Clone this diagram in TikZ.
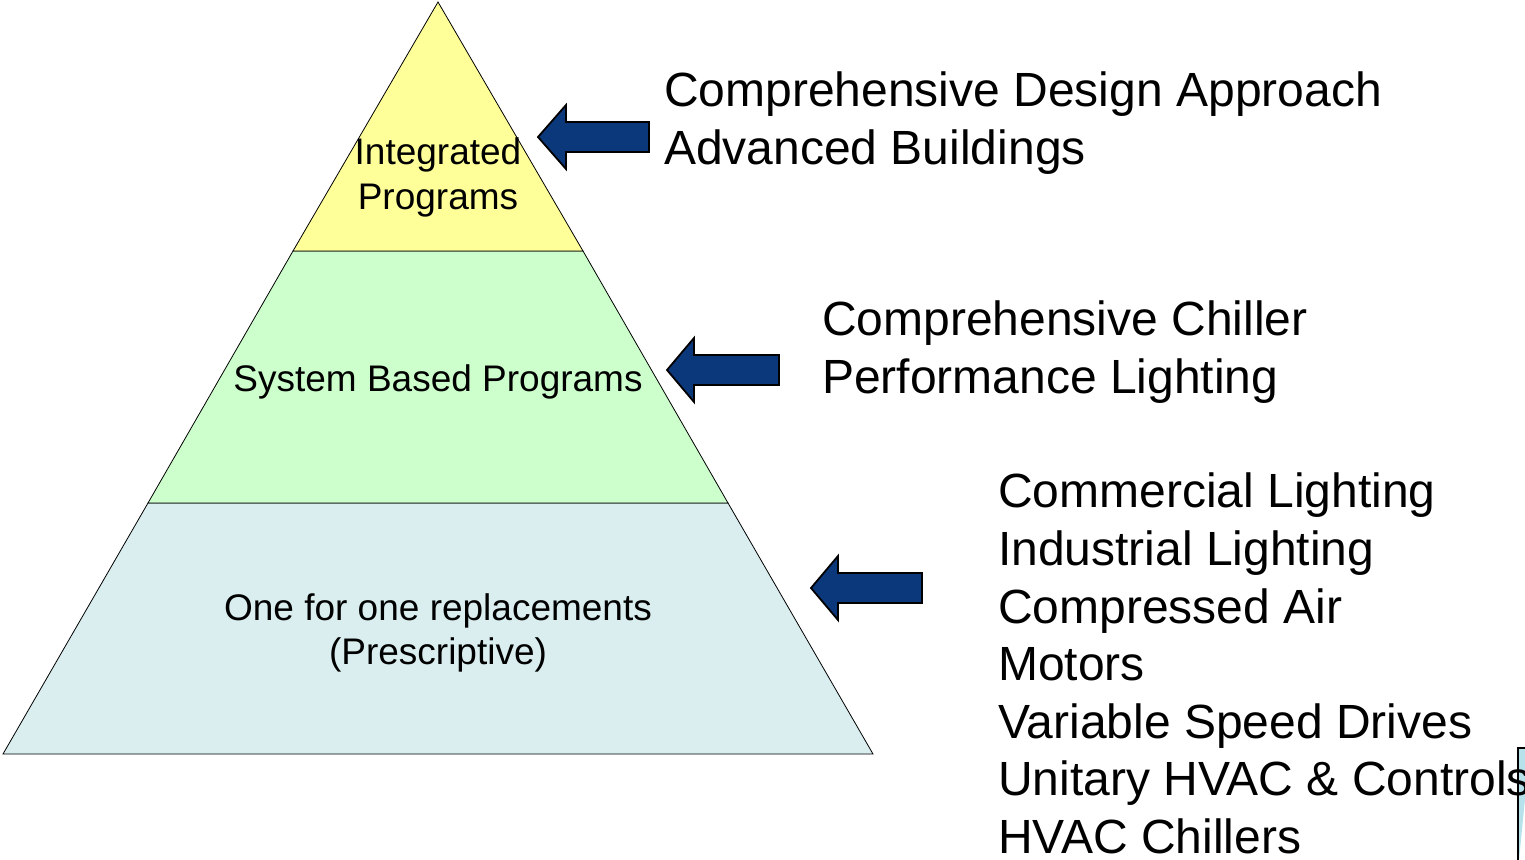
\documentclass[tikz,border=0pt]{standalone}
\usepackage{fontspec}
\setmainfont{Liberation Sans}
\definecolor{topyel}{RGB}{255,255,153}
\definecolor{midgrn}{RGB}{204,255,204}
\definecolor{botblu}{RGB}{218,238,240}
\definecolor{arrblu}{RGB}{11,56,122}
\definecolor{edgeblu}{RGB}{183,225,235}
\begin{document}
\begin{tikzpicture}[x=1pt,y=-1pt,
  tier/.style={draw=black,line width=0.8pt},
  blockarrow/.style={draw=black,line width=1.8pt,fill=arrblu,line join=miter},
  biglabel/.style={anchor=base west,inner sep=0pt,font=\fontsize{48}{58}\selectfont},
  tierlabel/.style={anchor=base,inner sep=0pt,font=\fontsize{37}{44}\selectfont}]
\useasboundingbox (0,0) rectangle (1525,859);
\clip (0,0) rectangle (1525,859);
% pyramid tiers
\draw[tier,fill=botblu] (148,503) -- (728,503) -- (873,754) -- (3,754) -- cycle;
\draw[tier,fill=midgrn] (293,251) -- (583,251) -- (728,503) -- (148,503) -- cycle;
\draw[tier,fill=topyel] (438,2) -- (583,251) -- (293,251) -- cycle;
% tier labels
\node[tierlabel] (int1) at (438,164) {Integrated};
\node[tierlabel] (int2) at (438,209) {Programs};
\node[tierlabel] (sys) at (438,391) {System Based Programs};
\node[tierlabel] (one1) at (438,620) {One for one replacements};
\node[tierlabel] (one2) at (438,664) {(Prescriptive)};
% block arrows
\draw[blockarrow] (538,137) -- (566,105) -- (566,122) -- (649,122) -- (649,152) -- (566,152) -- (566,169) -- cycle;
\draw[blockarrow] (667,370) -- (694,338) -- (694,355) -- (779,355) -- (779,385) -- (694,385) -- (694,402) -- cycle;
\draw[blockarrow] (811,588) -- (838,556) -- (838,573) -- (922,573) -- (922,603) -- (838,603) -- (838,620) -- cycle;
% partial shape at the right edge
\draw[line width=1.5pt,fill=edgeblu] (1530,748) -- (1518,748) -- (1518,870);
% right-hand texts
\node[biglabel] (a1) at (664,106.5) {Comprehensive Design Approach};
\node[biglabel] (a2) at (664,164.5) {Advanced Buildings};
\node[biglabel] (b1) at (822,335.5) {Comprehensive Chiller};
\node[biglabel] (b2) at (822,393.5) {Performance Lighting};
\node[biglabel] (c1) at (998,507.5) {Commercial Lighting};
\node[biglabel] (c2) at (998,565.5) {Industrial Lighting};
\node[biglabel] (c3) at (998,623.5) {Compressed Air};
\node[biglabel] (c4) at (998,680.5) {Motors};
\node[biglabel] (c5) at (998,738.5) {Variable Speed Drives};
\node[biglabel] (c6) at (998,795.5) {Unitary HVAC \& Controls};
\node[biglabel] (c7) at (998,853.5) {HVAC Chillers};
\end{tikzpicture}
\end{document}
